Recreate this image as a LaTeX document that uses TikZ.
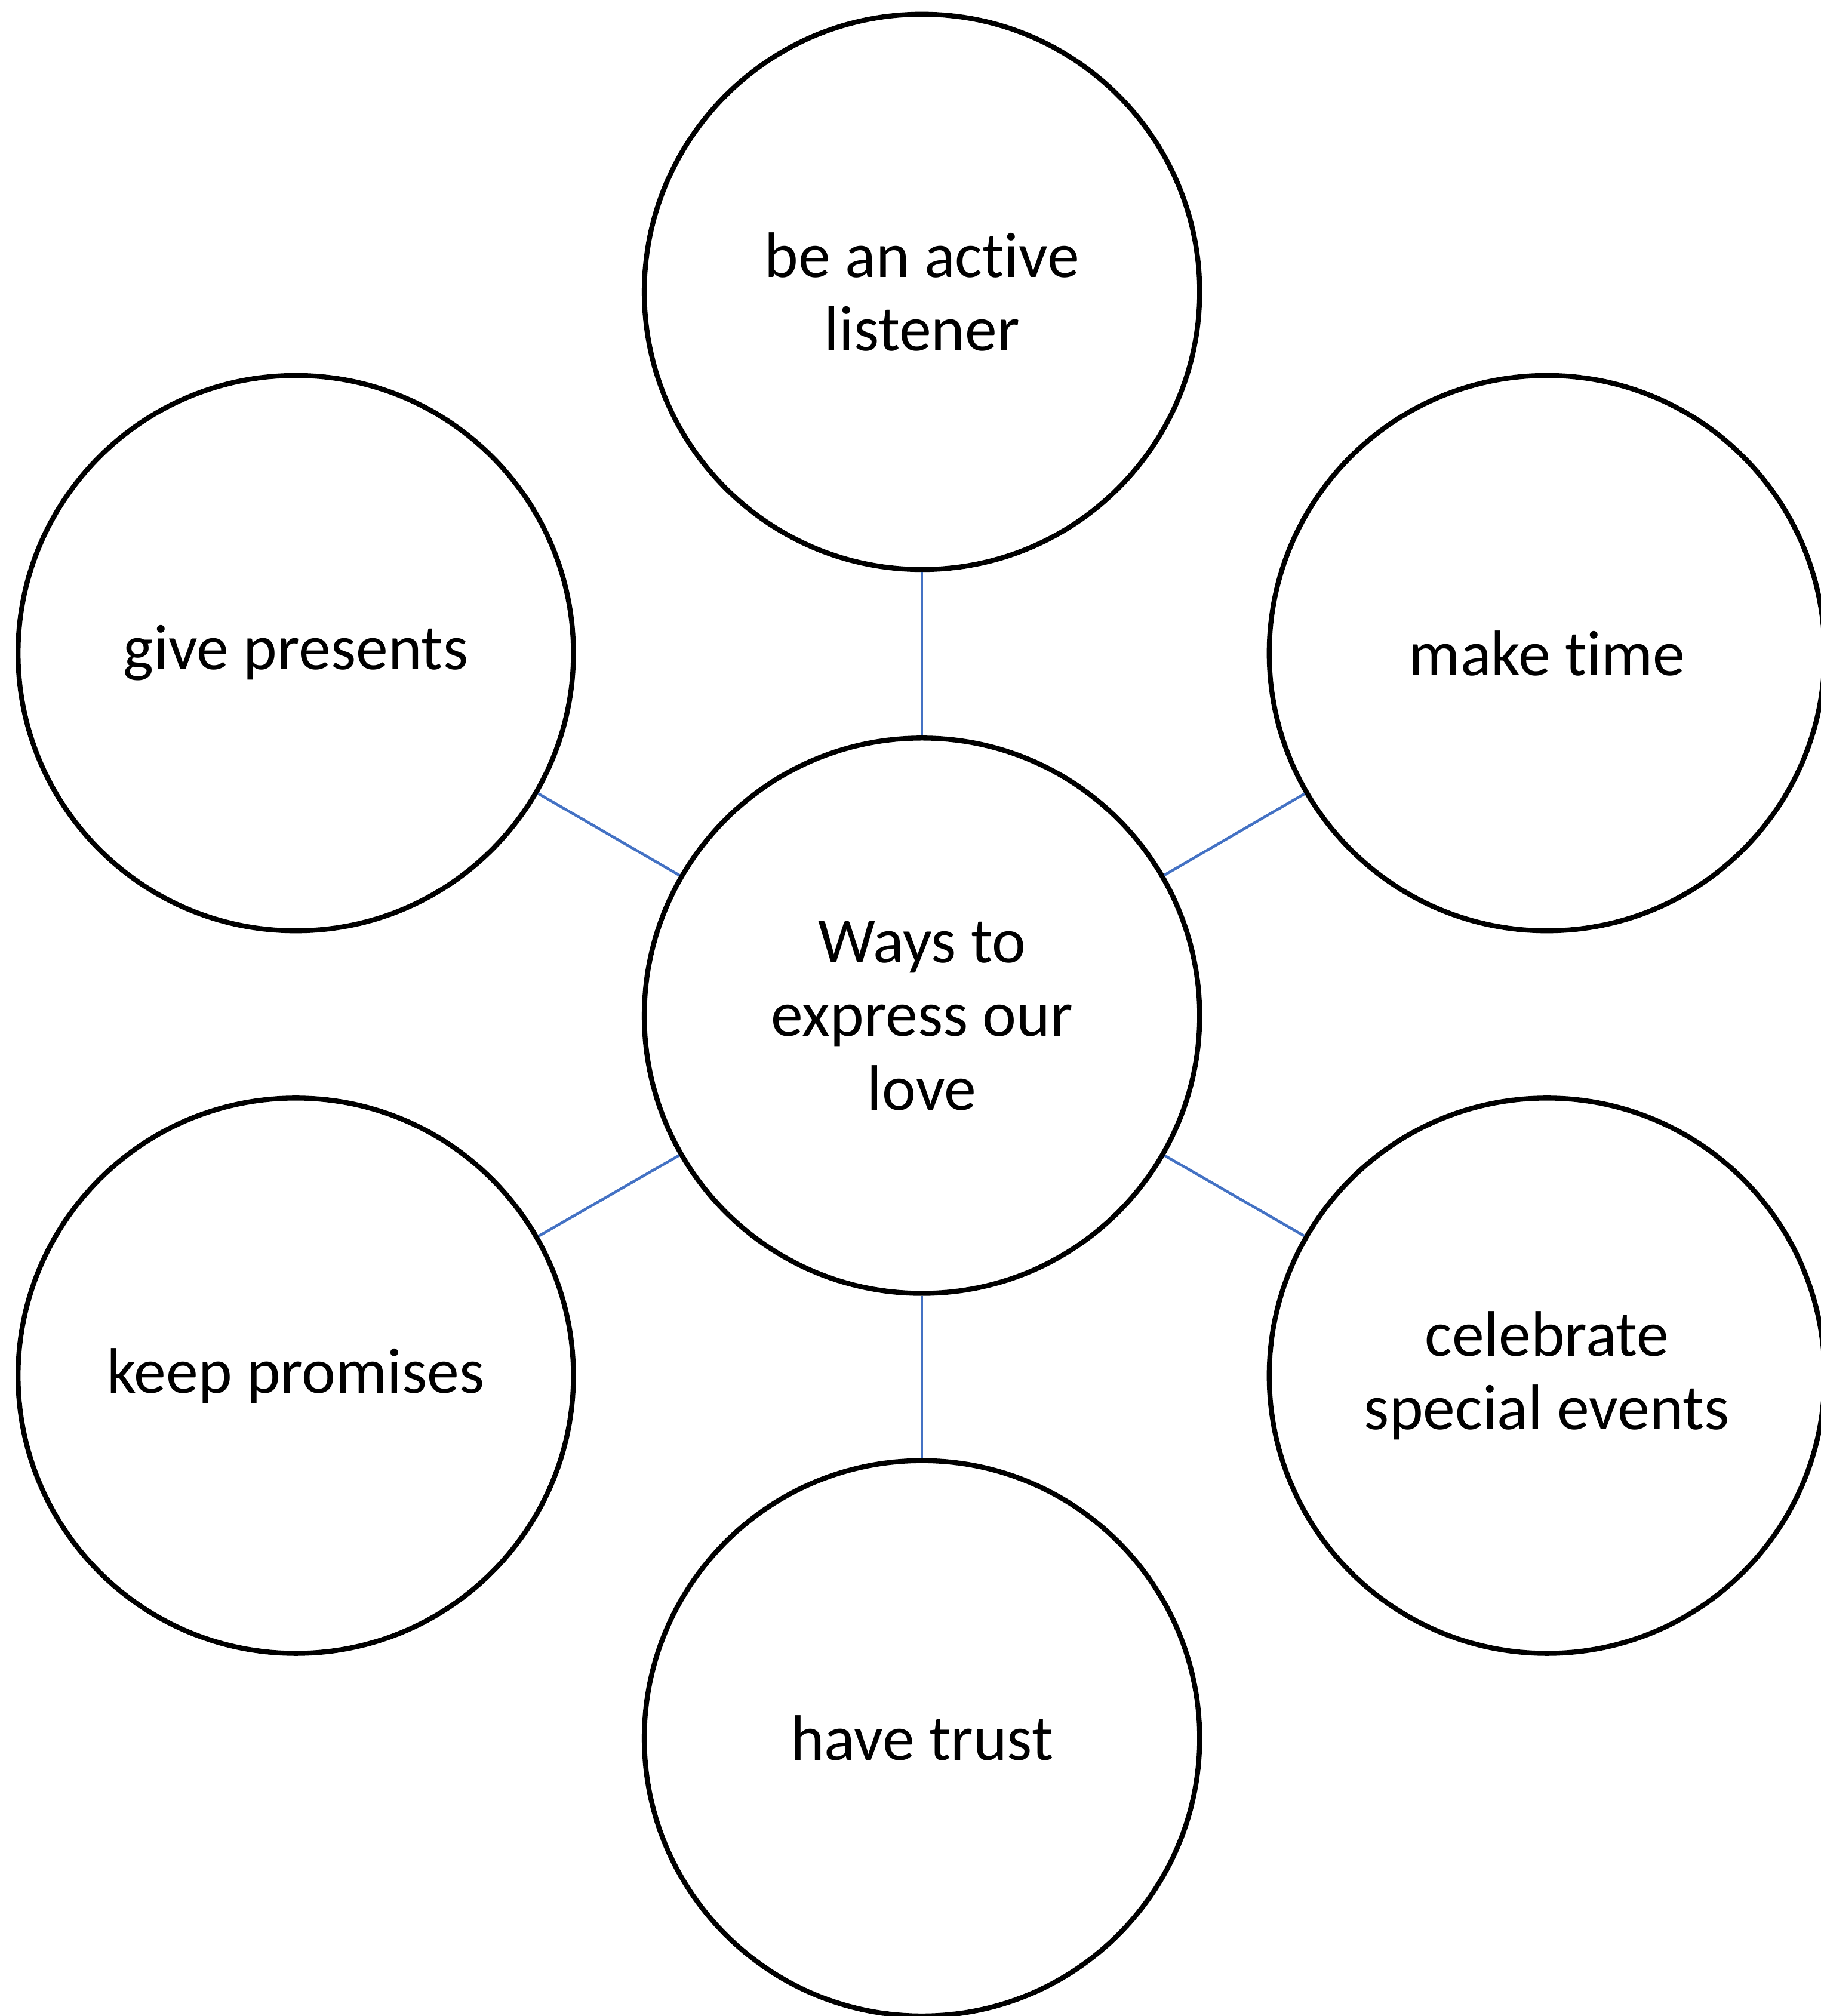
\documentclass[tikz,border=0pt]{standalone}
\usepackage{fontspec}
\setmainfont[Ligatures=NoCommon]{Carlito}
\usepackage{tikz}
\usetikzlibrary{arrows, shapes}

\definecolor{linkblue}{HTML}{4472C4}

\begin{document}
\begin{tikzpicture}[x=0.02cm, y=-0.02cm, -, semithick, every node/.style={circle, draw=black, line width=2.2pt, inner sep=0pt, minimum size=8.64cm, align=center, font=\fontsize{28.5}{32.6}\selectfont}]
		\useasboundingbox (0, 0) rectangle (1416, 1568);
		\node	(0) at (717, 790) {Ways to\\express our\\love};
		\node	(1) at (717, 227) {be an active\\listener};
		\node	(2) at (1203, 508) {make time};
		\node	(3) at (1203, 1070) {celebrate\\special events};
		\node	(4) at (717, 1352) {have trust};
		\node	(5) at (230, 1070) {keep promises};
		\node	(6) at (230, 508) {give presents};
		
		\path[draw=linkblue, line width=1.2pt]
				(0) edge (1)
				(0) edge (2)
				(0) edge (3)
				(0) edge (4)
				(0) edge (5)
				(0) edge (6);
	\end{tikzpicture}
\end{document}
